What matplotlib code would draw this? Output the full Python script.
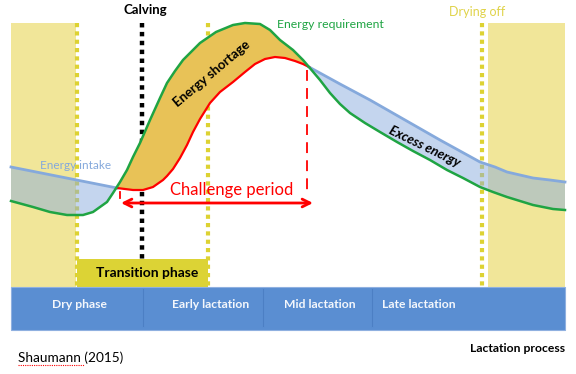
import numpy as np
import matplotlib
matplotlib.use('Agg')
import matplotlib.pyplot as plt
from matplotlib.patches import Rectangle

plt.rcParams['font.family'] = ['Lato', 'DejaVu Sans']

# =============================================================================
# data (pixel coordinates, y downwards)
# =============================================================================

# energy requirement (green)
req_x = [11, 33, 50, 67, 83, 93, 100, 107, 113, 120, 127, 133, 140, 150, 160, 167,
         175, 183, 192, 200, 216, 233, 245, 260, 270, 280, 293, 303, 309, 320, 330,
         340, 350, 365, 380, 397, 413, 430, 447, 463, 480, 493, 507, 520, 533, 553, 565]
req_y = [201, 207, 212, 215, 215, 212, 207, 202, 193, 182, 170, 157, 143, 120, 98, 83,
         71, 60, 51, 43, 32, 25, 23, 24, 30, 40, 50, 60, 67, 80, 93,
         104, 113, 123, 132, 142, 151, 160, 170, 178, 187, 192, 197, 201, 205, 209, 210]

# energy intake before calving (blue)
intake_left_x = [11, 117]
intake_left_y = [167, 188]

# energy intake during challenge period (red)
intake_mid_x = [117, 125, 133, 143, 153, 163, 167, 173, 180, 187, 193, 200, 210, 220,
                233, 245, 255, 265, 275, 285, 295, 303, 309]
intake_mid_y = [188, 189, 190, 190, 187, 180, 176, 169, 158, 145, 132, 119, 103, 92,
                82, 72, 64, 59, 57, 58, 61, 64, 67]

# energy intake after challenge period (blue)
intake_right_x = [309, 340, 370, 405, 440, 460, 480, 495, 507, 520, 533, 550, 565]
intake_right_y = [67, 84, 100, 120, 140, 151, 162, 167, 172, 175, 178, 180, 182]

# bottom bar
phase_labels = ['Dry phase', 'Early lactation', 'Mid lactation', 'Late lactation']
phase_label_x = [79, 211, 320, 419]
phase_dividers = [143, 263, 372]

# =============================================================================
# figure
# =============================================================================

fig = plt.figure(figsize=(5.76, 3.74), dpi=100)
ax = fig.add_axes([0, 0, 1, 1])
ax.set_xlim(0, 576)
ax.set_ylim(374, 0)
ax.axis('off')

yellow_band = '#f1e699'
yellow_dot = '#ddd232'
green = '#1fa443'
red = '#ff0000'
blue_line = '#85a9dc'
blue_fill = '#8badde'

# dry period bands
ax.add_patch(Rectangle((11, 23), 65, 264, color=yellow_band, zorder=1, lw=0))
ax.add_patch(Rectangle((488, 23), 77, 264, color=yellow_band, zorder=1, lw=0))

# vertical markers
for x, y0 in [(77, 23), (208, 23), (482, 23)]:
    ax.plot([x, x], [y0, 287], color=yellow_dot, lw=3, linestyle=(0, (1, 1)),
            zorder=2, solid_capstyle='butt', dash_capstyle='butt')
ax.plot([142, 142], [23, 259], color='black', lw=3.2, linestyle=(0, (1, 1)),
        zorder=2, dash_capstyle='butt')

# transition phase box
ax.add_patch(Rectangle((77, 259), 131, 28, facecolor='#dcd335', edgecolor='none', zorder=3))
ax.text(147, 273, 'Transition phase', ha='center', va='center', fontsize=10,
        fontweight='bold', color='black', zorder=4)

# filled areas
ax.fill(intake_left_x + req_x[:9][::-1], intake_left_y + req_y[:9][::-1],
        color=blue_fill, alpha=0.5, lw=0, zorder=3)
ax.fill(intake_mid_x + req_x[8:29][::-1], intake_mid_y + req_y[8:29][::-1],
        color='#e8c257', lw=0, zorder=3)
ax.fill(intake_right_x + req_x[28:][::-1], intake_right_y + req_y[28:][::-1],
        color=blue_fill, alpha=0.5, lw=0, zorder=3)

# curves
ax.plot(intake_left_x, intake_left_y, color=blue_line, lw=2, zorder=4)
ax.plot(intake_right_x, intake_right_y, color=blue_line, lw=2, zorder=4)
ax.plot(intake_mid_x, intake_mid_y, color=red, lw=1.6, zorder=5)
ax.plot(req_x, req_y, color=green, lw=1.8, zorder=6)

# challenge period
ax.plot([307, 307], [70, 192], color=red, lw=1.3, linestyle=(0, (6, 4)), zorder=5)
ax.plot([120, 120], [192, 198], color=red, lw=1.3, zorder=5)
ax.annotate('', xy=(121, 203), xytext=(313, 203),
            arrowprops=dict(arrowstyle='<->', color=red, lw=2,
                            mutation_scale=14, shrinkA=0, shrinkB=0), zorder=6)
ax.text(232, 190, 'Challenge period', ha='center', va='center', fontsize=12,
        color=red, zorder=6)

# labels
ax.text(145, 10, 'Calving', ha='center', va='center', fontsize=9.5, fontweight='bold')
ax.text(477, 12, 'Drying off', ha='center', va='center', fontsize=9, color='#e0d34a')
ax.text(330, 24, 'Energy requirement', ha='center', va='center', fontsize=8.8, color=green)
ax.text(76, 165, 'Energy intake', ha='center', va='center', fontsize=8.5, color=blue_line,
        zorder=7)
ax.text(212, 74, 'Energy shortage', ha='center', va='center', fontsize=9.5,
        fontweight='bold', rotation=40, zorder=7)
ax.text(425, 147, 'Excess energy', ha='center', va='center', fontsize=9.5,
        fontweight='bold', style='italic', rotation=-26, zorder=7)

# bottom bar
ax.add_patch(Rectangle((11, 287), 554, 43, facecolor='#5a8ed2', edgecolor='#8fb0e0',
                       lw=0.8, zorder=3))
for x in phase_dividers:
    ax.plot([x, x], [289, 326], color='#4c7fc4', lw=0.8, zorder=4)
for lab, x in zip(phase_labels, phase_label_x):
    ax.text(x, 305, lab, ha='center', va='center', fontsize=8.7, fontweight='bold',
            color='#f4f7fc', zorder=5)

ax.text(565, 348, 'Lactation process', ha='right', va='center', fontsize=8.7,
        fontweight='bold')
ax.text(18, 358, 'Shaumann (2015)', ha='left', va='center', fontsize=9.8)
ax.plot([18, 84], [365, 365], color=red, lw=0.8, linestyle=(0, (1, 1)))

fig.savefig('out.png', dpi=100)
